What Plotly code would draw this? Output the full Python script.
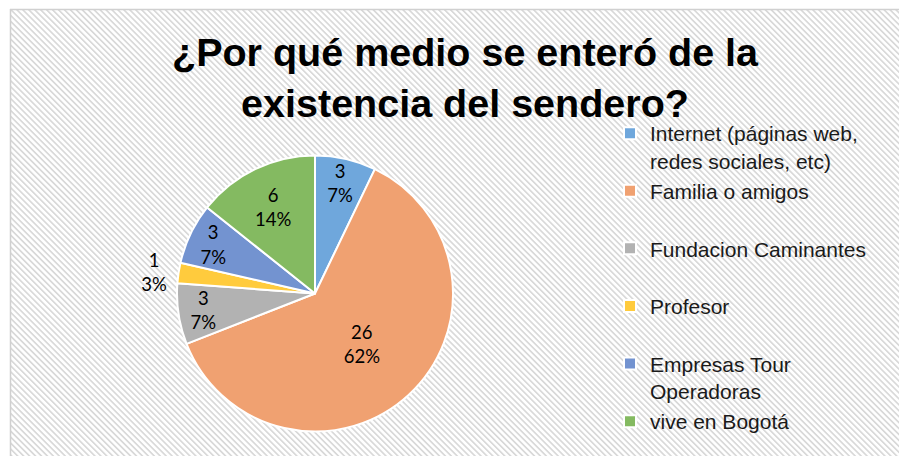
import base64
import plotly.graph_objects as go

# ---- data ----
categories = ["Internet (páginas web,<br>redes sociales, etc)",
              "Familia o amigos",
              "Fundacion Caminantes",
              "Profesor",
              "Empresas Tour<br>Operadoras",
              "vive en Bogotá"]
values = [3, 26, 3, 1, 3, 6]
pct_labels = [7, 62, 7, 3, 7, 14]   # percentages as printed on the chart
colors = ["#6FA7DC", "#F0A171", "#B2B2B2", "#FFCB3D", "#7393D0", "#84BA61"]
title_text = "¿Por qué medio se enteró de la<br>existencia del sendero?"

# page is 907x456; the html body has an 8px default margin
PAGE_W, PAGE_H = 907, 456
OFF = 8
W, H = PAGE_W - OFF, PAGE_H - OFF


def px(x):  # page x -> paper fraction
    return (x - OFF) / W


def py(y):  # page y -> paper fraction
    return 1 - (y - OFF) / H


# legend labels padded to two lines so every entry takes the same slot
legend_labels = [c if ("<br>" in c or i == len(categories) - 1) else c + "<br> "
                 for i, c in enumerate(categories)]

# background hatch pattern (diagonal stripes) with light border
bx, by = 10 - OFF, 9 - OFF
svg = f'''<svg xmlns="http://www.w3.org/2000/svg" width="{W}" height="{H}" viewBox="0 0 {W} {H}">
<defs><pattern id="p" patternUnits="userSpaceOnUse" width="4.2" height="4.2" patternTransform="rotate(-45)">
<rect width="4.2" height="4.2" fill="#ffffff"/><rect x="0" y="0" width="1.7" height="4.2" fill="#d9d9d9"/></pattern></defs>
<rect x="{bx}" y="{by}" width="{W}" height="{H}" fill="url(#p)"/>
<line x1="{bx + 0.5}" y1="{by}" x2="{bx + 0.5}" y2="{H}" stroke="#d0d0d0" stroke-width="1.5"/>
<line x1="{bx}" y1="{by + 0.5}" x2="{W}" y2="{by + 0.5}" stroke="#d0d0d0" stroke-width="1.5"/>
</svg>'''
src = "data:image/svg+xml;base64," + base64.b64encode(svg.encode()).decode()

textpos = ["inside", "inside", "inside", "outside", "inside", "inside"]

fig = go.Figure(go.Pie(
    labels=legend_labels,
    values=values,
    customdata=pct_labels,
    sort=False,
    direction="clockwise",
    rotation=0,
    marker=dict(colors=colors, line=dict(color="white", width=2)),
    texttemplate="%{value}<br>%{customdata}%",
    textposition=textpos,
    insidetextorientation="horizontal",
    textfont=dict(family="Lato, Carlito, sans-serif", size=18.5, color="#000000"),
    domain=dict(x=[px(177), px(453)], y=[py(432), py(155)]),
    hoverinfo="label+value+percent",
    showlegend=True,
))

title_font = dict(family="Liberation Sans, Arial, sans-serif", size=39.5,
                  color="#000000")

fig.update_layout(
    width=W, height=H,
    margin=dict(l=0, r=0, t=0, b=0, autoexpand=False),
    paper_bgcolor="white",
    plot_bgcolor="white",
    uniformtext=dict(minsize=18.5, mode="show"),
    images=[dict(source=src, xref="paper", yref="paper", x=0, y=1,
                 sizex=1, sizey=1, sizing="stretch", xanchor="left",
                 yanchor="top", layer="below")],
    legend=dict(x=px(610), y=py(113), xanchor="left", yanchor="top",
                valign="top", bgcolor="rgba(0,0,0,0)",
                font=dict(family="Liberation Sans, Arial, sans-serif", size=21,
                          color="#1a1a1a"),
                tracegroupgap=0),
    annotations=[
        dict(text=f"<b>{title_text}</b>", x=px(465), y=py(77),
             xref="paper", yref="paper", xanchor="center", yanchor="middle",
             showarrow=False, font=title_font),
    ],
)

fig.write_html("out.html")
